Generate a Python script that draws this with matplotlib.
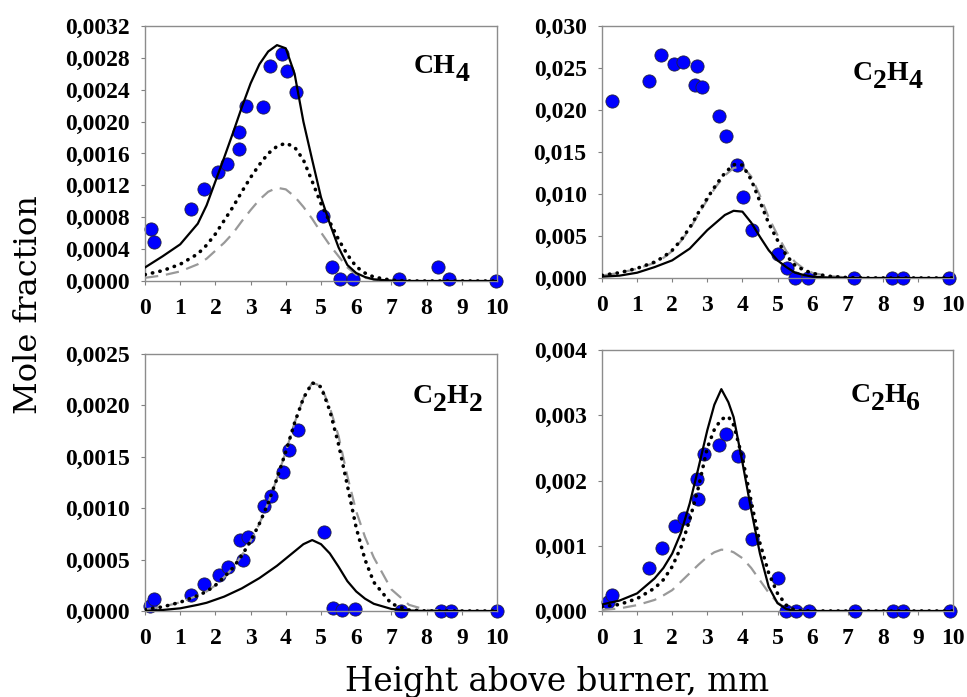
import matplotlib.pyplot as plt

plt.rcParams['font.family'] = 'Liberation Serif'

# ---- measured profiles (height above burner, mm / mole fraction) ----
z_ch4 = [0.16, 0.26, 1.30, 1.67, 2.06, 2.32, 2.68, 2.68, 2.88, 3.34, 3.54,
         3.89, 4.04, 4.29, 5.05, 5.30, 5.55, 5.92, 7.21, 8.33, 8.64, 9.98]
x_ch4 = [0.00065, 0.00049, 0.00090, 0.00116, 0.00137, 0.00147, 0.00166,
         0.00187, 0.00220, 0.00218, 0.00270, 0.00285, 0.00263, 0.00237,
         0.00082, 0.00018, 0.00002, 0.00002, 0.00003, 0.00018, 0.00003, 0.0]

z_c2h4 = [0.28, 1.33, 1.68, 2.05, 2.31, 2.72, 2.64, 2.86, 3.32, 3.52, 3.85,
          4.03, 4.27, 5.00, 5.26, 5.50, 5.87, 7.18, 8.26, 8.57, 9.90]
x_c2h4 = [0.0211, 0.0234, 0.0265, 0.0255, 0.0257, 0.0252, 0.0230, 0.0227,
          0.0193, 0.0169, 0.0134, 0.0097, 0.0057, 0.0029, 0.0012, 0.0, 0.0,
          0.0, 0.0, 0.0, 0.0]

z_c2h2 = [0.15, 0.26, 1.32, 1.67, 2.09, 2.35, 2.71, 2.78, 2.92, 3.37, 3.58,
          3.93, 4.08, 4.34, 5.09, 5.33, 5.59, 5.96, 7.26, 8.40, 8.69, 10.0]
x_c2h2 = [0.00005, 0.00012, 0.000156, 0.00026, 0.00035, 0.000425, 0.00069,
          0.00050, 0.000724, 0.00102, 0.00112, 0.00135, 0.00157, 0.00176,
          0.00077, 0.000026, 0.000006, 0.000016, 0.0, 0.0, 0.0, 0.0]

z_c2h6 = [0.16, 0.29, 1.35, 1.70, 2.09, 2.33, 2.70, 2.73, 2.90, 3.33, 3.54,
          3.88, 4.06, 4.28, 5.02, 5.25, 5.52, 5.89, 7.21, 8.28, 8.58, 9.91]
x_c2h6 = [0.000143, 0.000245, 0.000654, 0.00096, 0.00130, 0.00143, 0.00202,
          0.00172, 0.00241, 0.00255, 0.00271, 0.00238, 0.00166, 0.00110,
          0.00050, 0.0, 0.0, 0.0, 0.0, 0.0, 0.0, 0.0]

# ---- model profiles: solid / dotted / dashed mechanisms ----
z_model = [0, 0.5, 1, 1.5, 1.75, 2, 2.25, 2.5, 2.75, 3, 3.25, 3.5, 3.75, 4,
           4.25, 4.5, 4.75, 5, 5.25, 5.5, 5.75, 6, 6.25, 6.5, 7, 7.5, 8, 9, 10]

ch4_solid = [0.00017, 0.00031, 0.00046, 0.00072, 0.00095, 0.00125, 0.00155,
             0.00186, 0.00218, 0.00248, 0.00272, 0.00288, 0.00296, 0.00292,
             0.00260, 0.00200, 0.00152, 0.00105, 0.00072, 0.00042, 0.00020,
             0.00010, 0.00005, 0.00002, 0.000005, 0, 0, 0, 0]
ch4_dotted = [0.00008, 0.00013, 0.00021, 0.00034, 0.00045, 0.00059, 0.00076,
              0.00093, 0.00112, 0.00130, 0.00146, 0.00160, 0.00169, 0.00173,
              0.00168, 0.00152, 0.00125, 0.00097, 0.00074, 0.00052, 0.00033,
              0.00018, 0.00010, 0.00005, 0.00001, 0, 0, 0, 0]
ch4_dashed = [0.00004, 0.00007, 0.00012, 0.00021, 0.00028, 0.00038, 0.00048,
              0.00060, 0.00075, 0.00089, 0.00102, 0.00112, 0.00117, 0.00115,
              0.00106, 0.00093, 0.00078, 0.00061, 0.00045, 0.00031, 0.00017,
              0.00008, 0.00004, 0.00002, 0, 0, 0, 0, 0]

c2h4_solid = [0.00016, 0.00028, 0.00063, 0.0013, 0.0017, 0.0021, 0.0028,
              0.0035, 0.0046, 0.0057, 0.0066, 0.0075, 0.0080, 0.0079, 0.0066,
              0.0049, 0.0033, 0.0021, 0.0013, 0.00063, 0.00036, 0.00016,
              0.0001, 0.00005, 0, 0, 0, 0, 0]
c2h4_dotted = [0.00032, 0.00063, 0.00115, 0.0019, 0.0025, 0.0033, 0.0045,
               0.0060, 0.0078, 0.0095, 0.0111, 0.0125, 0.0135, 0.01345,
               0.0117, 0.0091, 0.0065, 0.0045, 0.0027, 0.0015, 0.00095,
               0.00055, 0.00035, 0.0002, 0.00005, 0.00001, 0, 0, 0]
c2h4_dashed = [0.0003, 0.0006, 0.0011, 0.0018, 0.0024, 0.0032, 0.0044,
               0.0058, 0.0076, 0.0093, 0.0109, 0.0122, 0.0131, 0.0133,
               0.0121, 0.0098, 0.0072, 0.0051, 0.0032, 0.0019, 0.0011,
               0.0006, 0.0004, 0.00022, 0.00006, 0.00001, 0, 0, 0]

c2h2_solid = [0.0, 0.00001, 0.000026, 0.00006, 0.00008, 0.00011, 0.00014,
              0.00018, 0.00022, 0.00027, 0.00032, 0.00038, 0.00044, 0.00051,
              0.00058, 0.00065, 0.00069, 0.00065, 0.00056, 0.00043, 0.00029,
              0.00019, 0.00012, 0.00007, 0.00002, 0.000005, 0, 0, 0]
c2h2_dotted = [0.000016, 0.00004, 0.000085, 0.00015, 0.00019, 0.00025,
               0.00033, 0.00042, 0.00054, 0.00068, 0.00085, 0.00105, 0.00129,
               0.00155, 0.00183, 0.00207, 0.00222, 0.00218, 0.00195, 0.00162,
               0.00122, 0.00081, 0.00050, 0.00028, 0.00007, 0.00001, 0, 0, 0]
c2h2_dashed = [0.000016, 0.00004, 0.000085, 0.00015, 0.00019, 0.00025,
               0.00033, 0.00042, 0.00054, 0.00068, 0.00085, 0.00105, 0.00129,
               0.00155, 0.00183, 0.00207, 0.00222, 0.00219, 0.00198, 0.00170,
               0.00131, 0.00097, 0.00072, 0.00052, 0.00021, 0.00006, 0.00001,
               0, 0]

z_model_c2h6 = [0, 0.5, 1, 1.5, 1.75, 2, 2.25, 2.5, 2.75, 3, 3.2, 3.4, 3.6,
                3.75, 4, 4.25, 4.5, 4.75, 5, 5.25, 5.5, 6, 7, 8, 9, 10]
c2h6_solid = [0.0001, 0.00016, 0.00027, 0.0005, 0.00066, 0.00088, 0.0012,
              0.00165, 0.0022, 0.00277, 0.00316, 0.0034, 0.0032, 0.00297,
              0.00228, 0.00155, 0.00088, 0.00037, 0.00012, 0.00003, 0, 0, 0,
              0, 0, 0]
c2h6_dotted = [0.000066, 0.0001, 0.00019, 0.00035, 0.00048, 0.00068, 0.00098,
               0.0014, 0.0019, 0.0025, 0.00278, 0.00294, 0.00298, 0.00285,
               0.00235, 0.00168, 0.00104, 0.00058, 0.00027, 0.00009, 0.00001,
               0, 0, 0, 0, 0]
c2h6_dashed = [0.000015, 0.00004, 0.00009, 0.00017, 0.00024, 0.00032,
               0.00045, 0.00058, 0.00071, 0.00083, 0.0009, 0.00094, 0.00093,
               0.0009, 0.00081, 0.00066, 0.00047, 0.00028, 0.00013, 0.00004,
               0.00001, 0, 0, 0, 0, 0]

# ---- axis ticks ----
x_ticks = list(range(11))
x_labels = [str(v) for v in x_ticks]

ch4_ticks = [0, 0.0004, 0.0008, 0.0012, 0.0016, 0.0020, 0.0024, 0.0028, 0.0032]
ch4_labels = ['0,0000', '0,0004', '0,0008', '0,0012', '0,0016', '0,0020',
              '0,0024', '0,0028', '0,0032']
c2h4_ticks = [0, 0.005, 0.010, 0.015, 0.020, 0.025, 0.030]
c2h4_labels = ['0,000', '0,005', '0,010', '0,015', '0,020', '0,025', '0,030']
c2h2_ticks = [0, 0.0005, 0.0010, 0.0015, 0.0020, 0.0025]
c2h2_labels = ['0,0000', '0,0005', '0,0010', '0,0015', '0,0020', '0,0025']
c2h6_ticks = [0, 0.001, 0.002, 0.003, 0.004]
c2h6_labels = ['0,000', '0,001', '0,002', '0,003', '0,004']

W, H = 967, 697
fig = plt.figure(figsize=(W / 100, H / 100), dpi=100)


def px_axes(left, top, right, bottom):
    return fig.add_axes([left / W, 1 - bottom / H, (right - left) / W,
                         (bottom - top) / H])


def formula(ax, x, y, parts):
    # chemical formula with full-size, lowered subscript digits
    kw = dict(fontsize=20, fontweight='bold', ha='left')
    t = ax.text(x, y, parts[0], transform=ax.transAxes, va='baseline', **kw)
    low = False
    for s in parts[1:]:
        low = not low
        t = ax.annotate(s, xy=(1, 0), xycoords=t, xytext=(0, -8 if low else 8),
                        textcoords='offset pixels', va='bottom', **kw)


def panel(rect, z_exp, x_exp, zm, solid, dotted, dashed, yticks, ylabels,
          name, name_xy):
    ax = px_axes(*rect)
    ax.plot(z_exp, x_exp, 'o', color='#0000ff', markeredgecolor='#202040',
            markeredgewidth=0.6, markersize=9.5, clip_on=False, zorder=2)
    ax.plot(zm, dashed, color='#999999', lw=1.6, dashes=(6, 3.5), zorder=3)
    ax.plot(zm, dotted, color='black', lw=2.6, linestyle=(0, (0.1, 2.0)),
            dash_capstyle='round', zorder=3)
    ax.plot(zm, solid, color='black', lw=1.6, zorder=4)
    ax.set_xlim(0, 10)
    ax.set_ylim(yticks[0], yticks[-1])
    ax.set_xticks(x_ticks)
    ax.set_xticklabels(x_labels, fontweight='bold')
    ax.set_yticks(yticks)
    ax.set_yticklabels(ylabels, fontweight='bold')
    ax.tick_params(direction='out', length=3, width=0.8, color='#808080',
                   labelsize=17)
    ax.tick_params(axis='x', pad=9)
    ax.tick_params(axis='y', pad=8)
    for sp in ax.spines.values():
        sp.set_color('#8c8c8c')
        sp.set_linewidth(1.0)
    formula(ax, name_xy[0], name_xy[1], name)
    return ax


panel((145, 26, 497, 281), z_ch4, x_ch4, z_model, ch4_solid, ch4_dotted,
      ch4_dashed, ch4_ticks, ch4_labels, ['CH', '4'], (0.764, 0.816))
panel((602, 26, 953, 278), z_c2h4, x_c2h4, z_model, c2h4_solid, c2h4_dotted,
      c2h4_dashed, c2h4_ticks, c2h4_labels, ['C', '2', 'H', '4'], (0.715, 0.786))
panel((145, 354, 497, 611), z_c2h2, x_c2h2, z_model, c2h2_solid, c2h2_dotted,
      c2h2_dashed, c2h2_ticks, c2h2_labels, ['C', '2', 'H', '2'], (0.761, 0.809))
panel((602, 350, 953, 611), z_c2h6, x_c2h6, z_model_c2h6, c2h6_solid,
      c2h6_dotted, c2h6_dashed, c2h6_ticks, c2h6_labels, ['C', '2', 'H', '6'],
      (0.709, 0.80))

fig.text(0.029, 0.5624, 'Mole fraction', rotation=90, ha='center', va='center',
         fontsize=23, family='DejaVu Serif')
fig.text(0.576, 0.008, 'Height above burner, mm', ha='center', va='baseline',
         fontsize=23.5, family='DejaVu Serif')

fig.savefig('out.png', dpi=100, facecolor='white')
